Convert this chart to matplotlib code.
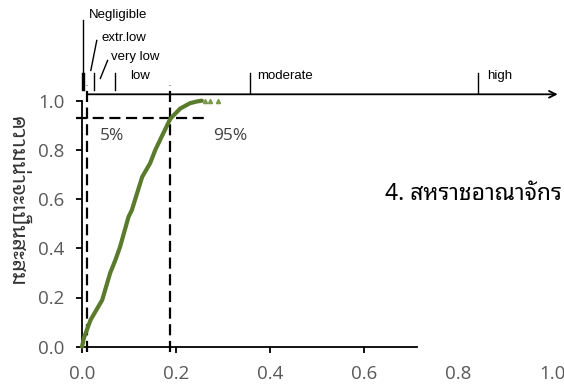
import matplotlib
matplotlib.use("Agg")
import matplotlib.pyplot as plt

# ---- data ----
cdf_x = [0.0, 0.004, 0.018, 0.043, 0.060, 0.071, 0.081, 0.099, 0.106, 0.128,
         0.145, 0.156, 0.166, 0.188, 0.209, 0.230, 0.245, 0.255]
cdf_y = [0.0, 0.035, 0.108, 0.190, 0.300, 0.352, 0.406, 0.528, 0.555, 0.690,
         0.746, 0.800, 0.840, 0.927, 0.968, 0.990, 0.997, 1.000]
tail_x = [0.262, 0.273, 0.290]
tail_y = [1.0, 1.0, 1.0]

p5 = 0.011
p95 = 0.188
p_level = 0.93

x_ticks = [0.0, 0.2, 0.4, 0.6, 0.8, 1.0]
x_tick_labels = ["0.0", "0.2", "0.4", "0.6", "0.8", "1.0"]
y_ticks = [0.0, 0.2, 0.4, 0.6, 0.8, 1.0]
y_tick_labels = ["0.0", "0.2", "0.4", "0.6", "0.8", "1.0"]

cat_bounds = [0.0, 0.005, 0.026, 0.07, 0.357, 0.843]
ylabel = "ความน่าจะเป็นสะสม"
title = "4. สหราชอาณาจักร"

THAI = ["Noto Sans Thai Looped", "DejaVu Sans"]
TICKF = ["Open Sans", "DejaVu Sans"]
ARIAL = ["Liberation Sans", "DejaVu Sans"]

fig = plt.figure(figsize=(5.64, 3.87), dpi=100)
ax = fig.add_axes([82/564, 1-346.7/387, 470/564, 246/387])
ax.set_xlim(0, 1.0)
ax.set_ylim(0, 1.0)

grey = "#595959"
green = "#5a7a2c"

# curve
ax.plot(cdf_x, cdf_y, color=green, lw=3.0, solid_capstyle="round", clip_on=False, zorder=5)
ax.plot(tail_x, tail_y, ls="none", marker="^", ms=3, color="#7a9a4a", clip_on=False, zorder=5)

# dashed lines
dash = dict(color="black", lw=1.6, ls=(0, (5, 2.5)), clip_on=False, zorder=4)
ax.plot([p5, p5], [-0.02, 1.062], **dash)
ax.plot([p95, p95], [-0.02, 1.062], **dash)
ax.plot([-0.012, 0.271], [p_level, p_level], **dash)

ax.text(0.039, 0.858, "5%", fontsize=12.5, color="#404040", family=TICKF, va="center", ha="left")
ax.text(0.279, 0.858, "95%", fontsize=12.5, color="#404040", family=TICKF, va="center", ha="left")

# spines
for s in ["top", "right"]:
    ax.spines[s].set_visible(False)
ax.spines["left"].set_linewidth(1.3)
ax.spines["bottom"].set_linewidth(1.3)
ax.spines["bottom"].set_bounds(0, 0.713)

ax.set_xticks(x_ticks)
ax.set_xticklabels(x_tick_labels, family=TICKF, fontsize=13.5, color=grey)
ax.set_yticks(y_ticks)
ax.set_yticklabels(y_tick_labels, family=TICKF, fontsize=13.5, color=grey)
ax.tick_params(axis="both", direction="out", length=4.5, width=1.3, color="black")
ax.tick_params(axis="x", pad=9)
ax.tick_params(axis="y", pad=8)
for t in ax.xaxis.get_major_ticks()[4:]:
    t.tick1line.set_visible(False)

# top arrow scale
ax.annotate("", xy=(1.018, 1.026), xytext=(0.0064, 1.026), xycoords="data",
            arrowprops=dict(arrowstyle="->", lw=1.3, color="black", mutation_scale=12),
            annotation_clip=False)
for b in cat_bounds:
    ax.plot([b, b], [1.044 if b < 0.3 else 1.03, 1.1126], color="black", lw=1.0, clip_on=False)

cat_font = dict(family=ARIAL, fontsize=9.5, color="black", va="center", ha="left")
ax.text(0.0155, 1.348, "Negligible", **cat_font)
ax.text(0.0425, 1.255, "extr.low", **cat_font)
ax.text(0.0625, 1.176, "very low", **cat_font)
ax.text(0.1025, 1.1, "low", **cat_font)
ax.text(0.372, 1.1, "moderate", **cat_font)
ax.text(0.8615, 1.101, "high", **cat_font)
# leaders
ax.plot([0.0021, 0.0021], [1.0435, 1.3285], color="black", lw=1.0, clip_on=False)
ax.plot([0.0314, 0.0188], [1.2449, 1.1231], color="black", lw=1.0, clip_on=False)
ax.plot([0.0545, 0.039], [1.1637, 1.0906], color="black", lw=1.0, clip_on=False)

# texts
fig.text(385/564, 1-194/387, title, family=THAI, fontsize=16.5, color="black",
         va="center", ha="left")
fig.text(16/564, 1-201/387, ylabel, family=THAI, fontsize=15.5, color="#333333",
         rotation=270, va="center", ha="center")

fig.savefig("out.png", dpi=100)
